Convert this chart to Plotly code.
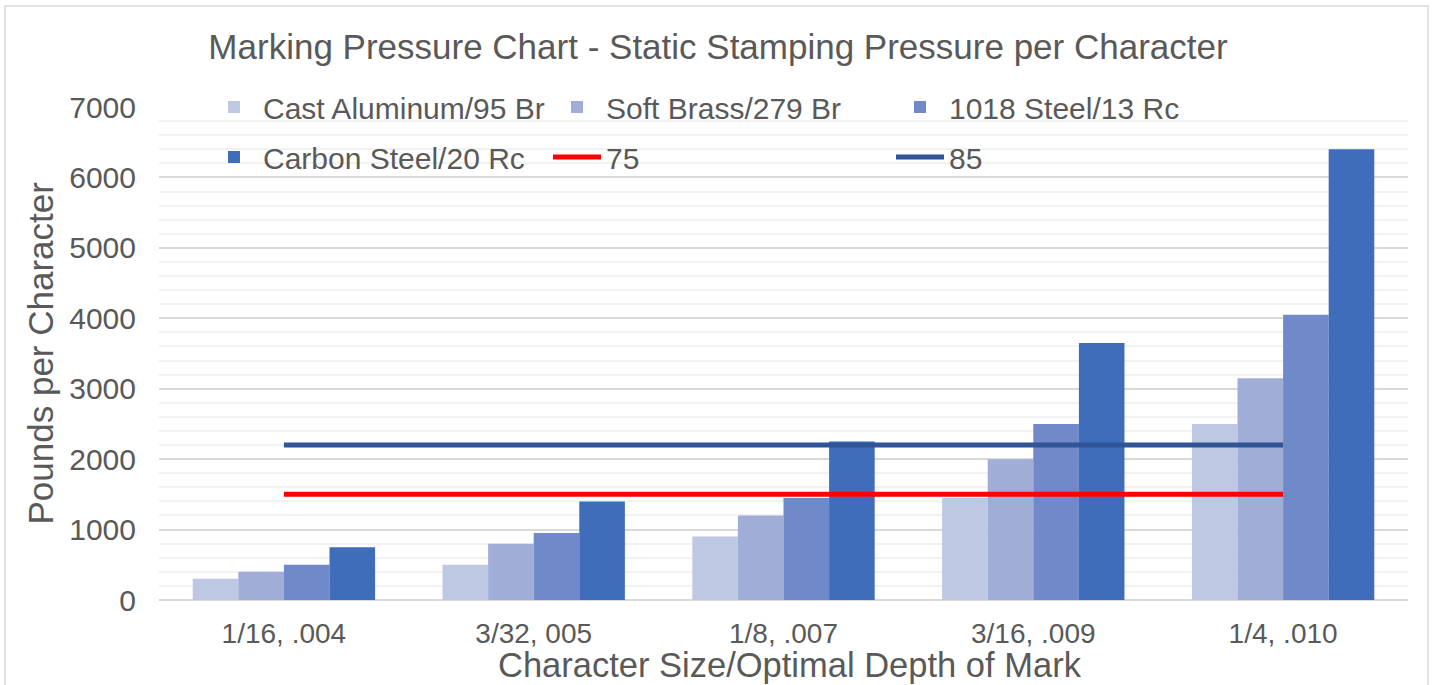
import plotly.graph_objects as go

categories = ["1/16, .004", "3/32, 005", "1/8, .007", "3/16, .009", "1/4, .010"]
cast_aluminum = [300, 500, 900, 1450, 2500]
soft_brass = [400, 800, 1200, 2000, 3150]
steel_1018 = [500, 950, 1450, 2500, 4050]
carbon_steel = [750, 1400, 2250, 3650, 6400]
line_75 = [1500, 1500, 1500, 1500, 1500]
line_85 = [2200, 2200, 2200, 2200, 2200]
y_ticks = [0, 1000, 2000, 3000, 4000, 5000, 6000, 7000]

FONT = "Liberation Sans"
GRAY = "#595959"

fig = go.Figure()
bar_series = [
    ("Cast Aluminum/95 Br", cast_aluminum, "#BFC8E3", "legend"),
    ("Soft Brass/279 Br", soft_brass, "#A0AED7", "legend"),
    ("1018 Steel/13 Rc", steel_1018, "#6F89C9", "legend"),
    ("Carbon Steel/20 Rc", carbon_steel, "#3F6DBA", "legend2"),
]
for name, vals, col, lg in bar_series:
    fig.add_trace(go.Bar(x=categories, y=vals, name=name, marker_color=col,
                         marker_line_width=0, legend=lg))

fig.add_trace(go.Scatter(x=categories, y=line_75, name="75", mode="lines",
                         line=dict(color="#FF0000", width=5), legend="legend2"))
fig.add_trace(go.Scatter(x=categories, y=line_85, name="85", mode="lines",
                         line=dict(color="#2F5597", width=5), legend="legend2"))

legend_common = dict(orientation="h", xref="paper", yref="paper",
                     xanchor="left", yanchor="middle",
                     font=dict(family=FONT, size=30, color=GRAY),
                     bgcolor="rgba(0,0,0,0)", entrywidth=280, entrywidthmode="pixels",
                     itemwidth=48, traceorder="normal")

fig.update_layout(
    width=1436, height=685,
    margin=dict(l=159, r=28, t=107, b=85),
    paper_bgcolor="white", plot_bgcolor="white",
    barmode="group", bargap=0.27, bargroupgap=0,
    title=dict(text="Marking Pressure Chart - Static Stamping Pressure per Character",
               x=0.5, xanchor="center", y=1 - 47 / 685, yanchor="middle",
               font=dict(family=FONT, size=35, color=GRAY)),
    font=dict(family=FONT, color=GRAY),
    legend=dict(x=(210 - 159) / 1249 - 0.004, y=1.0, **legend_common),
    legend2=dict(x=(210 - 159) / 1249 - 0.004, y=1 - 50 / 493, **legend_common),
    xaxis=dict(type="category", showgrid=False, showline=False, zeroline=False,
               automargin=False,
               ticks="", tickfont=dict(family=FONT, size=28, color=GRAY),
               ticklabelstandoff=14),
    yaxis=dict(range=[0, 7000], tickvals=y_ticks, showline=False, automargin=False,
               gridcolor="#D9D9D9", gridwidth=1.5,
               zeroline=True, zerolinecolor="#D9D9D9", zerolinewidth=1.5,
               ticks="", tickfont=dict(family=FONT, size=30, color=GRAY),
               ticklabelstandoff=22,
               minor=dict(dtick=200, showgrid=True, gridcolor="#F2F2F2", gridwidth=1.5)),
    showlegend=True,
)

fig.add_annotation(text="Pounds per Character", textangle=-90, xref="paper", yref="paper",
                   x=(40 - 159) / 1249, y=0.5, xanchor="center", yanchor="middle",
                   showarrow=False, font=dict(family=FONT, size=35, color=GRAY))
fig.add_annotation(text="Character Size/Optimal Depth of Mark", xref="paper", yref="paper",
                   x=(790 - 159) / 1249, y=(600 - 665) / 493, xanchor="center", yanchor="middle",
                   showarrow=False, font=dict(family=FONT, size=34.5, color=GRAY))

fig.add_shape(type="rect", xref="paper", yref="paper",
              x0=(5 - 159) / 1249, x1=(1428 - 159) / 1249,
              y0=(600 - 700) / 493, y1=(600 - 6) / 493,
              line=dict(color="#D9D9D9", width=1.5), fillcolor="rgba(0,0,0,0)", layer="below")

fig.write_html("out.html", post_script="document.body.style.margin='0';",
               config={"displayModeBar": False})
